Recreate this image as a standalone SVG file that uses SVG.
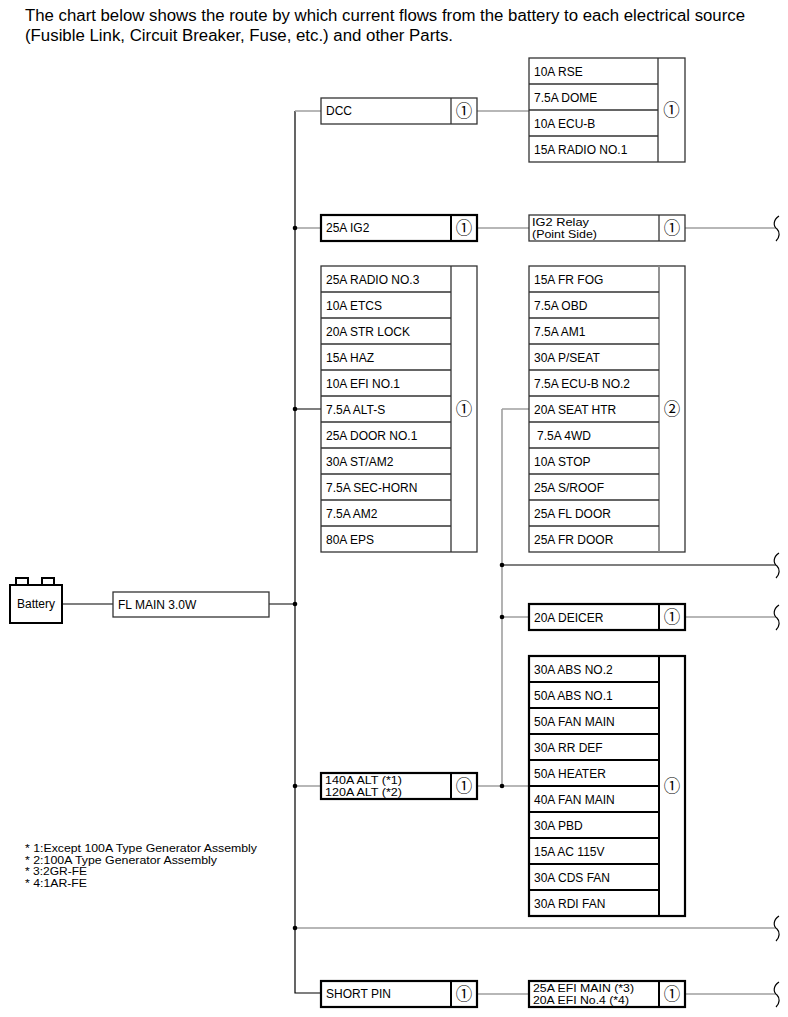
<svg xmlns="http://www.w3.org/2000/svg" width="788" height="1017" viewBox="0 0 788 1017">
<style>
text{font-family:"Liberation Sans",Arial,sans-serif;fill:#000}
.h{font-size:16px}
.t{font-size:12px}
.t2{font-size:10.5px}
.n{font-size:11.5px}
.c{font-family:"Noto Sans CJK JP","DejaVu Sans",sans-serif;font-size:16.5px;text-anchor:middle}
.bx{fill:#fff;stroke:#333;stroke-width:1.3}
.bk{fill:#fff;stroke:#000;stroke-width:2.2}
.ln{stroke:#333;stroke-width:1.3;fill:none}
.lk{stroke:#000;stroke-width:2;fill:none}
.lg{stroke:#888;stroke-width:1.8;fill:none}
.wk{stroke:#000;stroke-width:1.2;fill:none}
.wg{stroke:#a0a0a0;stroke-width:1.6;fill:none}
.wv{stroke:#000;stroke-width:1.2;fill:none}
</style>
<defs>
<path id="wave" d="M0,-12 C-6,-8 -6,-2 -2,1 C1,4 1,9 -3,13" class="wv"/>
</defs>

<text class="h" x="25" y="21" textLength="720" lengthAdjust="spacingAndGlyphs">The chart below shows the route by which current flows from the battery to each electrical source</text>
<text class="h" x="25" y="41" textLength="428" lengthAdjust="spacingAndGlyphs">(Fusible Link, Circuit Breaker, Fuse, etc.) and other Parts.</text>

<g id="connectors">
<path class="wk" d="M62,604 H113 M269,604 H295 M295,111 V993 H321 M295,409 H321 M502,565 H776"/>
<path class="wg" d="M295,111 H321 M477,111 H529 M295,228 H321 M477,228 H529 M685,228 H776 M502,409 H529 M502,409 V786 M502,617 H529 M685,617 H776 M295,786 H321 M477,786 H529 M295,928 H776 M477,994 H529 M685,994 H776"/>
<g fill="#000">
<circle cx="295" cy="228" r="2.3"/><circle cx="295" cy="409" r="2.3"/><circle cx="295" cy="604" r="2.3"/>
<circle cx="295" cy="786" r="2.3"/><circle cx="295" cy="928" r="2.3"/>
<circle cx="502" cy="565" r="2.3"/><circle cx="502" cy="617" r="2.3"/><circle cx="502" cy="786" r="2.3"/>
</g>
<use href="#wave" x="779" y="228"/>
<use href="#wave" x="779" y="565"/>
<use href="#wave" x="779" y="617"/>
<use href="#wave" x="779" y="928"/>
<use href="#wave" x="779" y="994"/>
</g>

<g id="battery">
<path class="lk" d="M16,585 V578 H28 V585 M42,585 V578 H54 V585"/>
<rect x="10" y="585" width="52" height="38" fill="#fff" stroke="#000" stroke-width="2"/>
<text class="t" x="36" y="608" text-anchor="middle">Battery</text>
</g>

<g id="fl-main">
<rect class="bx" x="113" y="592" width="156" height="25"/>
<text class="t" x="118" y="609">FL MAIN 3.0W</text>
</g>

<g id="dcc">
<rect class="bx" x="321" y="98" width="156" height="26"/>
<path class="ln" d="M451,98 V124"/>
<text class="t" x="326" y="115">DCC</text>
<text class="c" x="464" y="117">①</text>
</g>

<g id="dcc-fuses">
<rect class="bx" x="529" y="58" width="156" height="104"/>
<path class="ln" d="M658,58 V162 M529,84 H658 M529,110 H658 M529,136 H658"/>
<text class="t" x="534" y="76">10A RSE</text>
<text class="t" x="534" y="102">7.5A DOME</text>
<text class="t" x="534" y="128">10A ECU-B</text>
<text class="t" x="534" y="154">15A RADIO NO.1</text>
<text class="c" x="671.5" y="116">①</text>
</g>

<g id="ig2">
<rect class="bk" x="321" y="215" width="156" height="26"/>
<path class="lk" d="M451,215 V241"/>
<text class="t" x="326" y="232">25A IG2</text>
<text class="c" x="464" y="234">①</text>
</g>

<g id="ig2-relay">
<rect class="bx" x="529" y="215" width="156" height="26"/>
<path class="ln" d="M659,215 V241"/>
<text class="t2" x="532" y="225.5" textLength="57" lengthAdjust="spacingAndGlyphs">IG2 Relay</text>
<text class="t2" x="532" y="237.5" textLength="65" lengthAdjust="spacingAndGlyphs">(Point Side)</text>
<text class="c" x="672" y="234">①</text>
</g>

<g id="fuses-1">
<rect class="bx" x="321" y="266" width="156" height="286"/>
<path class="ln" d="M451,266 V552 M321,292 H451 M321,318 H451 M321,344 H451 M321,370 H451 M321,396 H451 M321,422 H451 M321,448 H451 M321,474 H451 M321,500 H451 M321,526 H451"/>
<text class="t" x="326" y="284">25A RADIO NO.3</text>
<text class="t" x="326" y="310">10A ETCS</text>
<text class="t" x="326" y="336">20A STR LOCK</text>
<text class="t" x="326" y="362">15A HAZ</text>
<text class="t" x="326" y="388">10A EFI NO.1</text>
<text class="t" x="326" y="414">7.5A ALT-S</text>
<text class="t" x="326" y="440">25A DOOR NO.1</text>
<text class="t" x="326" y="466">30A ST/AM2</text>
<text class="t" x="326" y="492">7.5A SEC-HORN</text>
<text class="t" x="326" y="518">7.5A AM2</text>
<text class="t" x="326" y="544">80A EPS</text>
<text class="c" x="464" y="415">①</text>
</g>

<g id="fuses-2">
<rect class="bx" x="529" y="266" width="156" height="286"/>
<path class="lg" d="M659,266 V552"/>
<path class="ln" d="M529,292 H659 M529,318 H659 M529,344 H659 M529,370 H659 M529,396 H659 M529,422 H659 M529,448 H659 M529,474 H659 M529,500 H659 M529,526 H659"/>
<text class="t" x="534" y="284">15A FR FOG</text>
<text class="t" x="534" y="310">7.5A OBD</text>
<text class="t" x="534" y="336">7.5A AM1</text>
<text class="t" x="534" y="362">30A P/SEAT</text>
<text class="t" x="534" y="388">7.5A ECU-B NO.2</text>
<text class="t" x="534" y="414">20A SEAT HTR</text>
<text class="t" x="537" y="440">7.5A 4WD</text>
<text class="t" x="534" y="466">10A STOP</text>
<text class="t" x="534" y="492">25A S/ROOF</text>
<text class="t" x="534" y="518">25A FL DOOR</text>
<text class="t" x="534" y="544">25A FR DOOR</text>
<text class="c" x="672" y="415">②</text>
</g>

<g id="deicer">
<rect class="bk" x="529" y="604" width="156" height="26"/>
<path class="lk" d="M659,604 V630"/>
<text class="t" x="534" y="622">20A DEICER</text>
<text class="c" x="672" y="623">①</text>
</g>

<g id="alt">
<rect class="bk" x="321" y="773" width="156" height="26"/>
<path class="lk" d="M451,773 V799"/>
<text class="t2" x="325" y="784" textLength="77" lengthAdjust="spacingAndGlyphs">140A ALT (*1)</text>
<text class="t2" x="325" y="796" textLength="77" lengthAdjust="spacingAndGlyphs">120A ALT (*2)</text>
<text class="c" x="464" y="792">①</text>
</g>

<g id="fuses-3">
<rect class="bk" x="529" y="656" width="156" height="260"/>
<path class="lk" d="M659,656 V916 M529,682 H659 M529,708 H659 M529,734 H659 M529,760 H659 M529,786 H659 M529,812 H659 M529,838 H659 M529,864 H659 M529,890 H659"/>
<text class="t" x="534" y="674">30A ABS NO.2</text>
<text class="t" x="534" y="700">50A ABS NO.1</text>
<text class="t" x="534" y="726">50A FAN MAIN</text>
<text class="t" x="534" y="752">30A RR DEF</text>
<text class="t" x="534" y="778">50A HEATER</text>
<text class="t" x="534" y="804">40A FAN MAIN</text>
<text class="t" x="534" y="830">30A PBD</text>
<text class="t" x="534" y="856">15A AC 115V</text>
<text class="t" x="534" y="882">30A CDS FAN</text>
<text class="t" x="534" y="908">30A RDI FAN</text>
<text class="c" x="672" y="792">①</text>
</g>

<g id="short-pin">
<rect class="bk" x="321" y="981" width="156" height="26"/>
<path class="lk" d="M451,981 V1007"/>
<text class="t" x="326" y="998">SHORT PIN</text>
<text class="c" x="464" y="1000">①</text>
</g>

<g id="efi">
<rect class="bk" x="529" y="981" width="156" height="26"/>
<path class="lk" d="M659,981 V1007"/>
<text class="t2" x="533" y="992" textLength="101" lengthAdjust="spacingAndGlyphs">25A EFI MAIN (*3)</text>
<text class="t2" x="533" y="1004" textLength="96" lengthAdjust="spacingAndGlyphs">20A EFI No.4 (*4)</text>
<text class="c" x="672" y="1000">①</text>
</g>

<g id="notes">
<text class="n" x="25" y="852" textLength="232" lengthAdjust="spacingAndGlyphs">* 1:Except 100A Type Generator Assembly</text>
<text class="n" x="25" y="863.5" textLength="192" lengthAdjust="spacingAndGlyphs">* 2:100A Type Generator Assembly</text>
<text class="n" x="25" y="875" textLength="62" lengthAdjust="spacingAndGlyphs">* 3:2GR-FE</text>
<text class="n" x="25" y="886.5" textLength="62" lengthAdjust="spacingAndGlyphs">* 4:1AR-FE</text>
</g>
</svg>
